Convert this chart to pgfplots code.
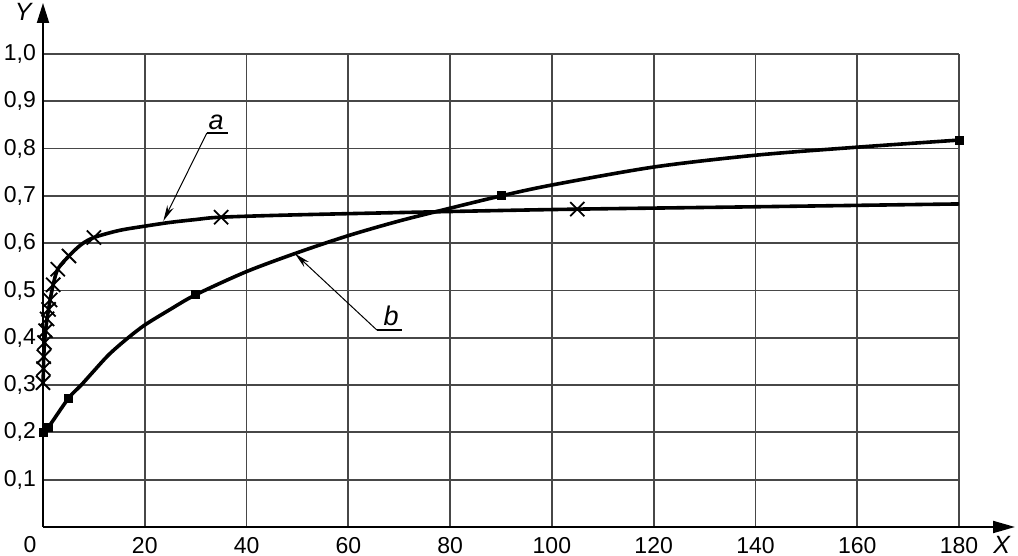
\documentclass[border=0pt]{standalone}
\usepackage{pgfplots}
\pgfplotsset{compat=1.18}
\usetikzlibrary{arrows.meta}
\usepackage{fontspec}
\setmainfont{Liberation Sans}

\pgfplotstableread{
x y
0 0.305
0.1 0.335
0.15 0.36
0.3 0.39
0.5 0.415
0.8 0.44
1.1 0.46
1.4 0.48
2.0 0.512
2.9 0.545
5.1 0.573
10 0.612
35 0.655
105 0.672
}\amarks

\pgfplotstableread{
x y
0 0.305
0.1 0.335
0.15 0.36
0.3 0.39
0.5 0.415
0.8 0.44
1.1 0.46
1.4 0.48
2.0 0.512
2.9 0.545
5.1 0.573
7.5 0.597
10 0.612
15 0.627
20 0.636
25 0.644
30 0.650
35 0.655
50 0.660
80 0.667
105 0.672
140 0.677
180 0.683
}\aline

\pgfplotstableread{
x y
0 0.20
1 0.21
5 0.272
30 0.491
90 0.70
180 0.818
}\bmarks

\pgfplotstableread{
x y
0 0.20
1 0.21
5 0.272
7.5 0.300
10 0.330
13 0.365
16.5 0.398
20 0.427
25 0.460
30 0.491
40 0.540
50 0.580
60 0.616
70 0.647
80 0.674
90 0.700
100 0.723
120 0.761
140 0.786
160 0.803
180 0.818
}\bline

\begin{document}
\begin{tikzpicture}
\begin{axis}[
  name=ax,
  scale only axis, width=458pt, height=236.5pt,
  xmin=0, xmax=180, ymin=0, ymax=1,
  axis lines=left,
  x axis line style={line width=1pt, -{Triangle[length=11pt,width=6pt]}, shorten >=-28pt},
  y axis line style={line width=1pt, -{Triangle[length=10pt,width=6pt]}, shorten >=-25.5pt},
  xtick={20,40,...,180},
  ytick={0.1,0.2,0.3,0.4,0.5,0.6,0.7,0.8,0.9,1.0},
  yticklabel style={/pgf/number format/.cd, fixed, fixed zerofill, precision=1, use comma},
  xticklabel style={yshift=-1.5pt},
  grid=major,
  major grid style={line width=0.9pt, black!72},
  major tick length=0pt,
  tick label style={font=\fontsize{11.5}{12}\selectfont},
  /pgf/number format/assume math mode=true,
  clip=false,
]
\addplot[black, line width=1.8pt, smooth, tension=0.5] table[x=x,y=y] {\aline};
\addplot[black, line width=1.8pt, smooth, tension=0.5] table[x=x,y=y] {\bline};
\addplot[only marks, mark=x, mark size=5pt, mark options={line width=0.9pt}] table[x=x,y=y] {\amarks};
\addplot[only marks, mark=square*, mark size=2pt] table[x=x,y=y] {\bmarks};

\draw[line width=0.5pt, -{Stealth[length=8pt,width=3.5pt]}] (axis cs:32.2,0.833) -- (axis cs:23.65,0.647);
\draw[line width=0.6pt] (axis cs:32.2,0.833) -- (axis cs:36.4,0.833);
\node[font=\fontsize{13.5}{14}\selectfont\itshape, anchor=base] at (axis cs:34.0,0.840) {a};

\draw[line width=0.5pt, -{Stealth[length=8pt,width=3.5pt]}] (axis cs:65.6,0.4165) -- (axis cs:49.5,0.578);
\draw[line width=0.6pt] (axis cs:65.6,0.4165) -- (axis cs:70.5,0.4165);
\node[font=\fontsize{13.5}{14}\selectfont\itshape, anchor=base] at (axis cs:68.4,0.425) {b};

\node[inner sep=0pt, font=\fontsize{12.5}{13}\selectfont\itshape] at (axis cs:-3.9,1.089) {Y};
\node[inner sep=0pt, font=\fontsize{12.5}{13}\selectfont\itshape] at (axis cs:188.4,-0.038) {X};
\node[inner sep=0pt, font=\fontsize{11.5}{12}\selectfont] at (axis cs:-2.55,-0.038) {0};
\end{axis}
\pgfresetboundingbox
\path (ax.south west) ++(-21.5pt,-14.5pt) rectangle ++(509pt,278pt);
\end{tikzpicture}
\end{document}
